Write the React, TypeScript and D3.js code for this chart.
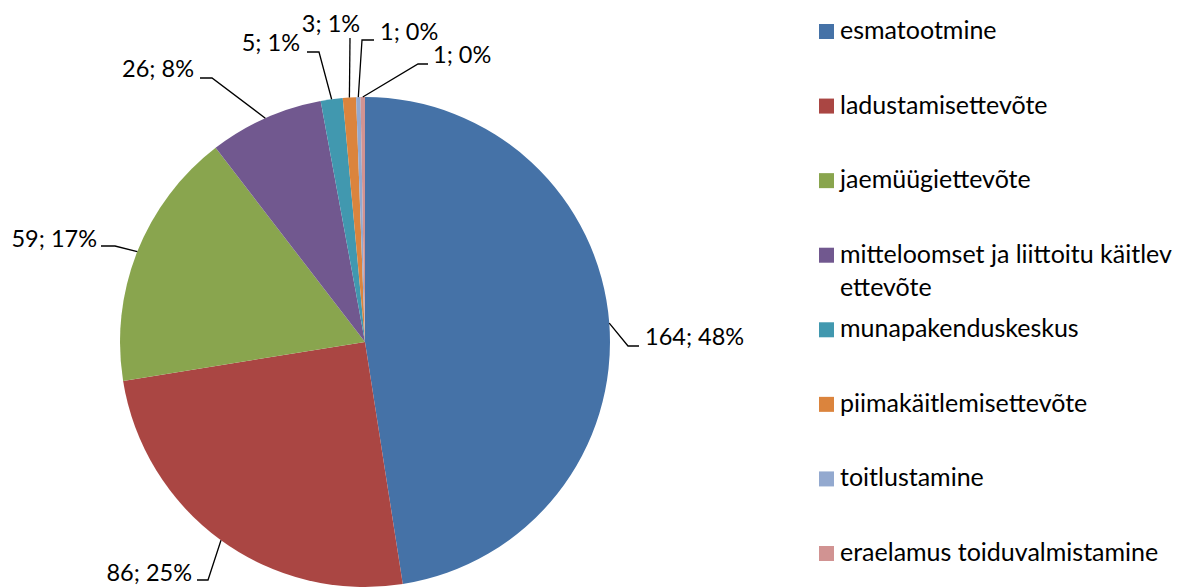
import React from 'react'
import * as d3 from 'd3'

const categories = [
  'esmatootmine',
  'ladustamisettevõte',
  'jaemüügiettevõte',
  'mitteloomset ja liittoitu käitlev ettevõte',
  'munapakenduskeskus',
  'piimakäitlemisettevõte',
  'toitlustamine',
  'eraelamus toiduvalmistamine',
]
const counts = [164, 86, 59, 26, 5, 3, 1, 1]
const colors = ['#4572A7', '#AA4643', '#89A54E', '#71588F', '#4198AF', '#DB843D', '#93A9CF', '#D19392']
// legend text split into lines (the long one wraps in the original)
const legendLines = [
  ['esmatootmine'],
  ['ladustamisettevõte'],
  ['jaemüügiettevõte'],
  ['mitteloomset ja liittoitu käitlev', 'ettevõte'],
  ['munapakenduskeskus'],
  ['piimakäitlemisettevõte'],
  ['toitlustamine'],
  ['eraelamus toiduvalmistamine'],
]

// where each data label sits (Excel puts them by hand), text pos + leader elbow
const labelLayout = [
  { tx: 645, ty: 345, anchor: 'start', elbow: [628, 346], end: [639, 346] },
  { tx: 192, ty: 581, anchor: 'end', elbow: [208, 580], end: [197, 580] },
  { tx: 97, ty: 247, anchor: 'end', elbow: [115, 246], end: [101, 246] },
  { tx: 194, ty: 77, anchor: 'end', elbow: [212, 78], end: [200, 78] },
  { tx: 300, ty: 51, anchor: 'end', elbow: [319, 52], end: [307, 52] },
  { tx: 331, ty: 32, anchor: 'middle', elbow: [350, 38], end: [350, 38] },
  { tx: 380, ty: 40, anchor: 'start', elbow: [362, 40], end: [374, 40] },
  { tx: 433, ty: 63, anchor: 'start', elbow: [418, 64], end: [428, 64] },
]

const width = 1185
const height = 588
const cx = 365
const cy = 342
const radius = 245
const font = 'Lato, "Open Sans", sans-serif'
const labelSize = 23.5
const legendSize = 25

type Row = { name: string; value: number; color: string }

const App = () => {
  const rows: Row[] = categories.map((name, i) => ({ name, value: counts[i], color: colors[i] }))
  const total = d3.sum(counts)

  const pieGen = d3.pie<Row>().value((d) => d.value).sort(null)
  const slices = pieGen(rows)
  const sliceArc = d3.arc<d3.PieArcDatum<Row>>().innerRadius(0).outerRadius(radius)
  const edgeArc = d3.arc<d3.PieArcDatum<Row>>().innerRadius(radius).outerRadius(radius)

  const legendY = d3.scaleLinear().domain([0, categories.length - 1]).range([31.5, 553.5])

  return (
    <svg
      width={width}
      height={height}
      style={{ position: 'absolute', left: 0, top: 0, background: '#fff' }}
      fontFamily={font}
    >
      <g transform={`translate(${cx},${cy})`}>
        {slices.map((d, i) => (
          <path key={i} d={sliceArc(d) || ''} fill={d.data.color} />
        ))}
      </g>

      {slices.map((d, i) => {
        const [px, py] = edgeArc.centroid(d)
        const l = labelLayout[i]
        const pct = Math.round((d.data.value / total) * 100)
        return (
          <g key={i}>
            <polyline
              points={`${cx + px},${cy + py} ${l.elbow[0]},${l.elbow[1]} ${l.end[0]},${l.end[1]}`}
              fill="none"
              stroke="#000"
              strokeWidth={1.3}
            />
            <text x={l.tx} y={l.ty} textAnchor={l.anchor} fontSize={labelSize} fill="#000">
              {`${d.data.value}; ${pct}%`}
            </text>
          </g>
        )
      })}

      {legendLines.map((lines, i) => {
        const y = legendY(i)
        return (
          <g key={i}>
            <rect x={819} y={y - 7.5} width={15} height={15} fill={colors[i]} />
            {lines.map((t, j) => (
              <text key={j} x={840} y={y + 7.5 + j * 33} fontSize={legendSize} fill="#000">
                {t}
              </text>
            ))}
          </g>
        )
      })}
    </svg>
  )
}

export default App
